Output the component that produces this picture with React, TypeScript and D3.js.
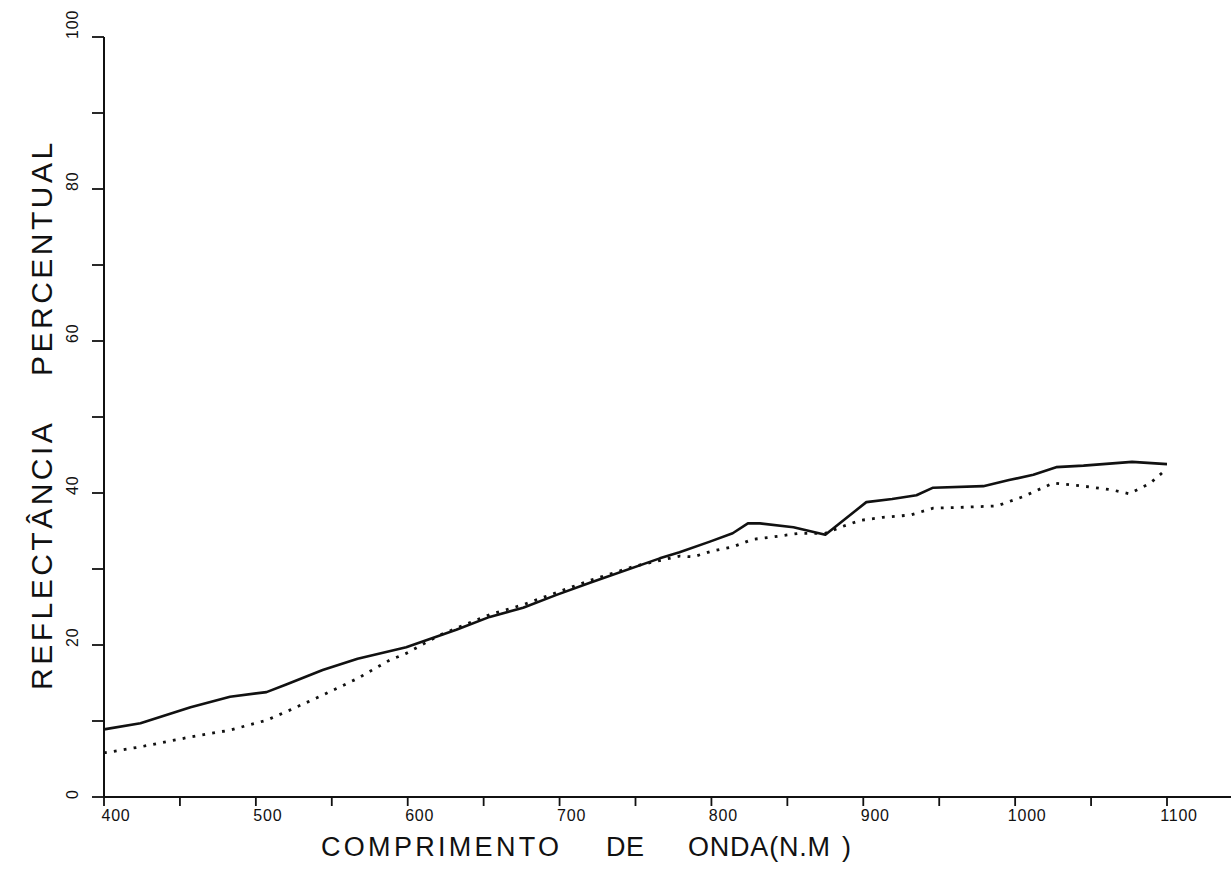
import React from "react";
import * as d3 from "d3";

// Wavelength (nm) and percent reflectance for the two spectra
const solidWavelength = [400, 424, 457, 483, 507, 520, 544, 567, 599, 632, 654, 676, 698, 720, 766, 779, 799, 814, 824, 832, 854, 875, 902, 919, 935, 946, 979, 996, 1012, 1027, 1045, 1077, 1100];
const solidReflectance = [8.9, 9.7, 11.8, 13.2, 13.8, 14.8, 16.7, 18.2, 19.7, 22.0, 23.7, 24.9, 26.6, 28.2, 31.4, 32.2, 33.6, 34.7, 36.0, 36.0, 35.5, 34.5, 38.8, 39.2, 39.7, 40.7, 40.9, 41.7, 42.4, 43.4, 43.6, 44.1, 43.8];

const dottedWavelength = [400, 424, 457, 483, 507, 522, 544, 567, 588, 599, 621, 654, 676, 698, 720, 750, 779, 788, 801, 814, 827, 840, 858, 875, 885, 898, 913, 931, 946, 963, 988, 1005, 1025, 1045, 1064, 1075, 1089, 1100];
const dottedReflectance = [5.8, 6.6, 7.9, 8.8, 10.1, 11.4, 13.4, 15.6, 18.0, 18.9, 21.3, 24.0, 25.3, 26.9, 28.5, 30.4, 31.7, 31.6, 32.4, 32.9, 33.9, 34.2, 34.7, 34.7, 35.5, 36.4, 36.8, 37.1, 38.0, 38.1, 38.3, 39.5, 41.3, 40.9, 40.4, 39.9, 41.3, 43.2];

const xTickValues = [400, 500, 600, 700, 800, 900, 1000, 1100];
const xMinorTicks = [400, 450, 500, 550, 600, 650, 700, 750, 800, 850, 900, 950, 1000, 1050, 1100];
const yTickLabels = [0, 20, 40, 60, 80, 100];
const yMinorTicks = [0, 10, 20, 30, 40, 50, 60, 70, 80, 90, 100];

const yTitleWords = ["REFLECTÂNCIA", "PERCENTUAL"];
const xTitleWords = ["COMPRIMENTO", "DE", "ONDA(N.M", ")"];

const W = 1231;
const H = 886;
const FONT = "'Liberation Sans', Arial, sans-serif";

export default function App() {
  const x = d3.scaleLinear().domain([400, 1100]).range([104, 1167]);
  const y = d3.scaleLinear().domain([0, 100]).range([797, 37]);

  const line = d3
    .line<[number, number]>()
    .x((d) => x(d[0]))
    .y((d) => y(d[1]))
    .curve(d3.curveLinear);

  const solidPts = solidWavelength.map((w, i) => [w, solidReflectance[i]] as [number, number]);
  const dottedPts = dottedWavelength.map((w, i) => [w, dottedReflectance[i]] as [number, number]);

  const x0 = x(400);
  const y0 = y(0);

  // word placement for the spaced-out axis titles
  const xTitleStarts = [321, 606, 688, 842];
  const xTitleLengths = [238, 38, 142, 0];
  const yTitleStarts = [690, 376];

  return (
    <svg
      width={W}
      height={H}
      viewBox={`0 0 ${W} ${H}`}
      style={{ position: "absolute", left: 0, top: 0, background: "#fff" }}
    >
      <rect width={W} height={H} fill="#fff" />

      {/* axes */}
      <line x1={x0} y1={y(100)} x2={x0} y2={y0 + 1} stroke="#111" strokeWidth={2} />
      <line x1={x0 - 1} y1={y0} x2={W} y2={y0} stroke="#111" strokeWidth={2} />

      {xMinorTicks.map((t) => (
        <line key={`xt${t}`} x1={x(t)} x2={x(t)} y1={y0} y2={y0 + 9} stroke="#111" strokeWidth={1.8} />
      ))}
      {xTickValues.map((t) => (
        <text
          key={`xl${t}`}
          x={x(t) + 12}
          y={y0 + 24}
          textAnchor="middle"
          fontFamily={FONT}
          fontSize={16}
          letterSpacing={0.8}
          fill="#111"
        >
          {t}
        </text>
      ))}

      {yMinorTicks.map((t) => (
        <line key={`yt${t}`} x1={x0 - 12} x2={x0} y1={y(t)} y2={y(t)} stroke="#111" strokeWidth={1.8} />
      ))}
      {yTickLabels.map((t) => (
        <text
          key={`yl${t}`}
          transform={`translate(78, ${y(t) + 2}) rotate(-90)`}
          textAnchor="start"
          fontFamily={FONT}
          fontSize={16}
          letterSpacing={0.8}
          fill="#111"
        >
          {t}
        </text>
      ))}

      {/* axis titles */}
      {yTitleWords.map((w, i) => (
        <text
          key={w}
          transform={`translate(52, ${yTitleStarts[i]}) rotate(-90)`}
          fontFamily={FONT}
          fontSize={30}
          letterSpacing={3.5}
          fill="#111"
        >
          {w}
        </text>
      ))}
      {xTitleWords.map((w, i) => (
        <text
          key={w}
          x={xTitleStarts[i]}
          y={856}
          fontFamily={FONT}
          fontSize={27}
          textLength={xTitleLengths[i] || undefined}
          lengthAdjust="spacing"
          fill="#111"
        >
          {w}
        </text>
      ))}

      {/* spectra */}
      <path
        d={line(dottedPts) || ""}
        fill="none"
        stroke="#111"
        strokeWidth={2.8}
        strokeDasharray="2.8 7.2"
      />
      <path
        d={line(solidPts) || ""}
        fill="none"
        stroke="#111"
        strokeWidth={2.6}
        strokeLinejoin="round"
      />
    </svg>
  );
}
